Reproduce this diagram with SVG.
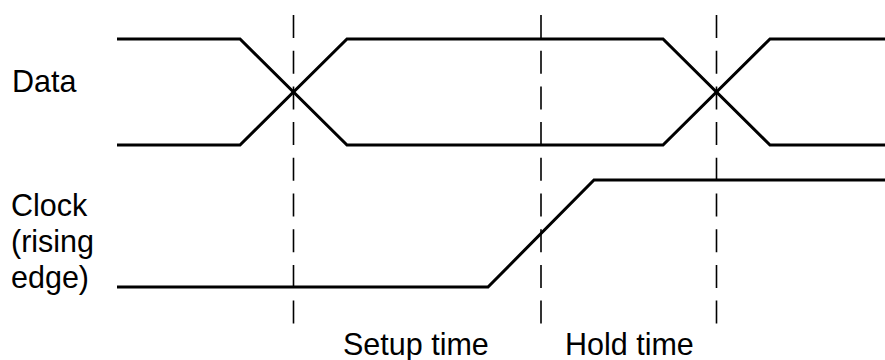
<svg xmlns="http://www.w3.org/2000/svg" width="885" height="360" viewBox="0 0 885 360">
<style>
.sig{fill:none;stroke:#000;stroke-width:3;stroke-linejoin:miter}
.dash{fill:none;stroke:#000;stroke-width:1.6;stroke-dasharray:23 12.7}
text{font-family:"Liberation Sans",Arial,sans-serif;font-size:30.5px;fill:#000}
</style>
<rect width="885" height="360" fill="#fff"/>
<g id="labels">
<text x="12" y="92">Data</text>
<text x="11" y="216">Clock</text>
<text x="11" y="252">(rising</text>
<text x="11" y="288">edge)</text>
<text x="343" y="355">Setup time</text>
<text x="565" y="355">Hold time</text>
</g>
<g id="data">
<polyline class="sig" points="117,39 240,39 347,145 663,145 770,39 885,39"/>
<polyline class="sig" points="117,145 240,145 347,39 663,39 770,145 885,145"/>
</g>
<g id="clock">
<polyline class="sig" points="117,287 488,287 594,180 885,180"/>
</g>
<g id="connectors">
<line class="dash" x1="293.5" y1="15" x2="293.5" y2="324"/>
<line class="dash" x1="541" y1="15" x2="541" y2="324"/>
<line class="dash" x1="716.5" y1="15" x2="716.5" y2="324"/>
</g>
</svg>
